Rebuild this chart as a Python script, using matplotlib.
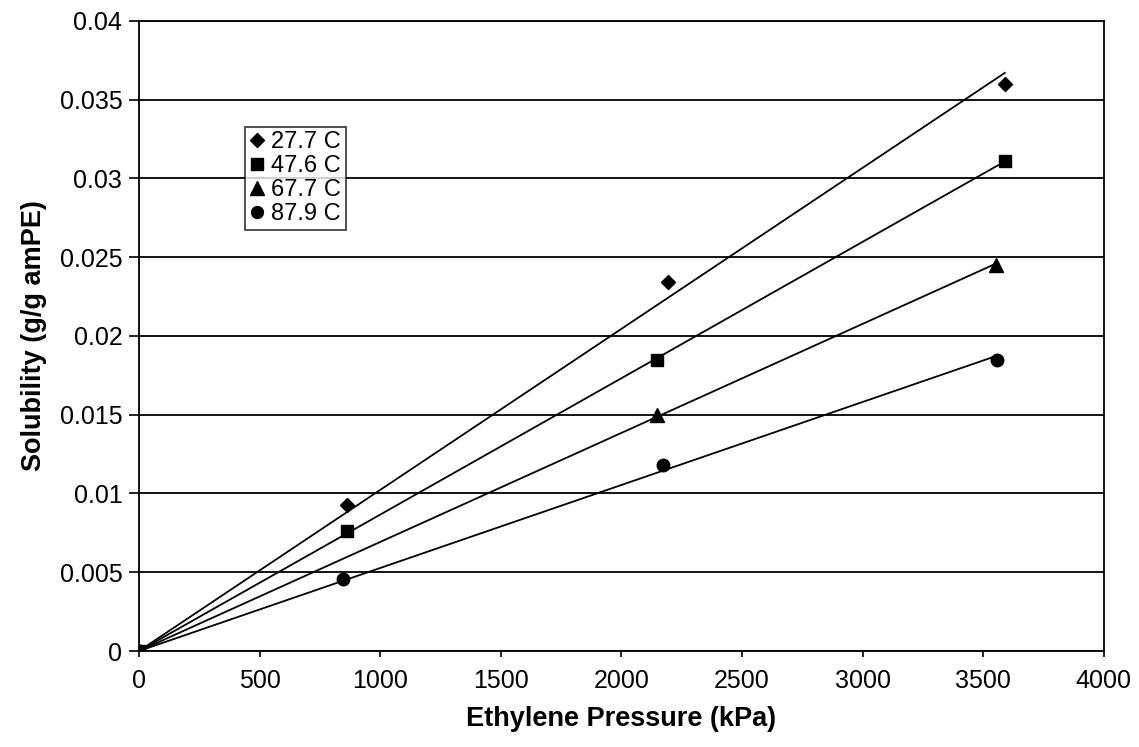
import numpy as np
import matplotlib
matplotlib.use("Agg")
import matplotlib.pyplot as plt

plt.rcParams['font.family'] = ['Liberation Sans', 'DejaVu Sans']

# pressure (kPa) and solubility (g/g amPE) for each temperature
p_277 = [0, 862, 2193, 3590]
s_277 = [0, 0.00924, 0.0234, 0.0360]
p_476 = [0, 862, 2147, 3590]
s_476 = [0, 0.00759, 0.0185, 0.0311]
p_677 = [0, 2147, 3552]
s_677 = [0, 0.0150, 0.0245]
p_879 = [0, 846, 2172, 3557]
s_879 = [0, 0.00456, 0.0118, 0.0185]

labels = ['27.7 C', '47.6 C', '67.7 C', '87.9 C']
markers = ['D', 's', '^', 'o']
msizes = [7, 9, 10, 9]
series = [(p_277, s_277), (p_476, s_476), (p_677, s_677), (p_879, s_879)]

fig = plt.figure(figsize=(11.39, 7.47), dpi=100)
ax = fig.add_axes([0.122, 0.1285, 0.847, 0.8435])

handles = []
for (p, s), lab, m, ms in zip(series, labels, markers, msizes):
    p = np.array(p, dtype=float)
    s = np.array(s, dtype=float)
    # linear trend forced through the origin
    k = np.sum(p * s) / np.sum(p * p)
    xs = np.array([0, p.max()])
    ax.plot(xs, k * xs, color='black', lw=1.3, zorder=2)
    h, = ax.plot(p, s, linestyle='none', marker=m, ms=ms, color='black',
                 label=lab, zorder=3)
    handles.append(h)

ax.set_xlim(0, 4000)
ax.set_ylim(0, 0.04)
ax.set_xticks(np.arange(0, 4001, 500))
ax.set_yticks(np.arange(0, 0.0401, 0.005))
ax.set_yticklabels(['0', '0.005', '0.01', '0.015', '0.02', '0.025',
                    '0.03', '0.035', '0.04'])
ax.yaxis.grid(True, color='black', lw=1.3)
ax.set_axisbelow(True)
for sp in ax.spines.values():
    sp.set_color('black')
    sp.set_linewidth(1.3)

ax.tick_params(axis='y', direction='out', length=7, width=1.2, labelsize=18, pad=5)
ax.tick_params(axis='x', direction='out', length=4, width=1.2, labelsize=18, pad=9)

ax.set_xlabel('Ethylene Pressure (kPa)', fontsize=19.5, fontweight='bold', labelpad=9)
ax.set_ylabel('Solubility (g/g amPE)', fontsize=19.5, fontweight='bold', labelpad=9)

leg = ax.legend(handles=handles, loc='upper left', bbox_to_anchor=(0.11, 0.832),
                borderaxespad=0, fontsize=17, frameon=True, fancybox=False,
                handlelength=0.6, handletextpad=0.3, labelspacing=0.08,
                borderpad=0.2, markerscale=0.95)
leg.get_frame().set_edgecolor('black')
leg.get_frame().set_linewidth(1.2)

fig.savefig('out.png', dpi=100, facecolor='white')
